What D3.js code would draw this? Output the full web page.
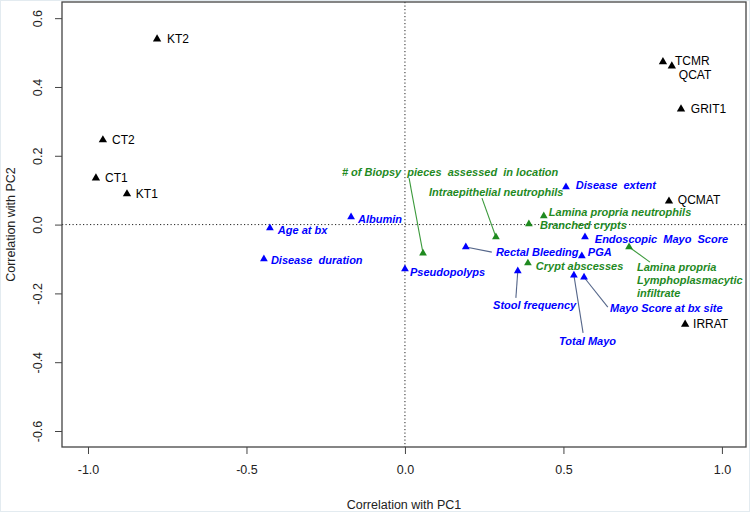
<!DOCTYPE html>
<html><head><meta charset="utf-8">
<script src="https://cdn.jsdelivr.net/npm/d3@7"></script>
<style>
html,body{margin:0;padding:0;background:#fff;}
svg{display:block;}
text{font-family:"Liberation Sans",Arial,sans-serif;}
</style></head>
<body>
<svg id="chart" width="750" height="512"></svg>
<script>
// ---- data ----
const names = ["KT2","CT2","CT1","KT1","TCMR","QCAT","GRIT1","QCMAT","IRRAT",
  "Age at bx","Albumin","Disease  duration","Pseudopolyps","Rectal Bleeding","Disease  extent",
  "Endoscopic  Mayo  Score","PGA","Stool frequency","Total Mayo","Mayo Score at bx site",
  "# of Biopsy  pieces  assessed  in location","Intraepithelial neutrophils","Lamina propria neutrophils",
  "Branched crypts","Crypt abscesses","Lamina propria\nLymphoplasmacytic\ninfiltrate"];
const groups = ["gene","gene","gene","gene","gene","gene","gene","gene","gene",
  "clin","clin","clin","clin","clin","clin","clin","clin","clin","clin","clin",
  "hist","hist","hist","hist","hist","hist"];
const pc1 = [-0.782,-0.953,-0.975,-0.877,0.814,0.842,0.871,0.833,0.884,
  -0.426,-0.170,-0.445,0.000,0.192,0.508,0.568,0.558,0.356,0.533,0.565,
  0.057,0.287,0.438,0.391,0.388,0.707];
const pc2 = [0.539,0.246,0.135,0.089,0.473,0.461,0.336,0.068,-0.290,
  -0.010,0.022,-0.100,-0.129,-0.065,0.109,-0.036,-0.091,-0.135,-0.147,-0.153,
  -0.083,-0.036,0.025,0.002,-0.112,-0.065];
// label anchors (left edge, vertical middle) in data units
const labX = [-0.751,-0.924,-0.946,-0.849,0.852,0.864,0.902,0.861,0.909,
  -0.401,-0.148,-0.423,0.016,0.287,0.539,0.599,0.577,0.278,0.486,0.647,
  -0.199,0.076,0.454,0.426,0.413,0.732];
const labY = [0.539,0.246,0.135,0.089,0.475,0.436,0.336,0.072,-0.289,
  -0.016,0.016,-0.103,-0.138,-0.080,0.115,-0.042,-0.080,-0.234,-0.339,-0.242,
  0.153,0.095,0.037,-0.001,-0.120,-0.123];
// leader lines: [index, x, y] other end of segment (in data units)
const leaders = [[13,0.274,-0.080],[17,0.350,-0.213],[18,0.562,-0.315],[19,0.640,-0.240],
  [20,0.013,0.135],[21,0.243,0.077],[25,0.773,-0.109]];
const xTicks = [-1.0,-0.5,0.0,0.5,1.0];
const yTicks = [-0.6,-0.4,-0.2,0.0,0.2,0.4,0.6];

// ---- chart ----
const svg = d3.select("#chart");
const L=62,R=746,T=2,B=447;
const x = d3.scaleLinear().domain([-1.082,1.076]).range([L,R]);
const y = d3.scaleLinear().domain([-0.6465,0.647]).range([B,T]);
const colors = {gene:"#000000", clin:"#0000ff", hist:"#1f8a1f"};
const lineCol = {clin:"#55668a", hist:"#3c9a3c"};
const fmt = d => d.toFixed(1);

svg.append("rect").attr("x",0.5).attr("y",0.5).attr("width",749).attr("height",511)
  .attr("fill","none").attr("stroke","#e3ebf0");

// reference lines
svg.append("line").attr("x1",L).attr("x2",R).attr("y1",y(0)).attr("y2",y(0))
  .attr("stroke","#222").attr("stroke-dasharray","1.2,2.3").attr("stroke-width",1);
svg.append("line").attr("y1",T).attr("y2",B).attr("x1",x(0)).attr("x2",x(0))
  .attr("stroke","#222").attr("stroke-dasharray","1.2,2.3").attr("stroke-width",1);

// axes
const xAxis = d3.axisBottom(x).tickValues(xTicks).tickFormat(fmt).tickSize(7).tickPadding(11);
const gx = svg.append("g").attr("transform",`translate(0,${B})`).call(xAxis);
gx.select(".domain").remove();
const yAxis = d3.axisLeft(y).tickValues(yTicks).tickFormat(fmt).tickSize(7).tickPadding(0);
const gy = svg.append("g").attr("transform",`translate(${L},0)`).call(yAxis);
gy.select(".domain").remove();
[gx,gy].forEach(g=>{
  g.selectAll(".tick line").attr("stroke","#444");
  g.selectAll(".tick text").attr("fill","#222").style("font-size","12.5px")
   .style("font-family","'Liberation Sans',Arial,sans-serif");
});
gy.selectAll(".tick text").attr("text-anchor","middle").attr("dy",null)
  .attr("transform",d=>`translate(-24,0) rotate(-90)`).attr("x",0).attr("y",0)
  .attr("dominant-baseline","central");
gx.selectAll(".tick text").attr("dy","0.71em");

svg.append("rect").attr("x",L).attr("y",T).attr("width",R-L).attr("height",B-T)
  .attr("fill","none").attr("stroke","#444").attr("stroke-width",1.3);

svg.append("text").attr("x",(L+R)/2).attr("y",505).attr("text-anchor","middle")
  .attr("dominant-baseline","central").style("font-size","12.5px").attr("fill","#222")
  .text("Correlation with PC1");
svg.append("text").attr("transform",`translate(11,${(T+B)/2}) rotate(-90)`)
  .attr("text-anchor","middle").attr("dominant-baseline","central")
  .style("font-size","12.5px").attr("fill","#222").text("Correlation with PC2");

// leader lines
leaders.forEach(([i,lx,ly])=>{
  svg.append("line").attr("x1",x(pc1[i])).attr("y1",y(pc2[i])).attr("x2",x(lx)).attr("y2",y(ly))
    .attr("stroke",lineCol[groups[i]]).attr("stroke-width",1.1);
});

// points
const idx = d3.range(names.length);
svg.append("g").selectAll("path").data(idx).join("path")
  .attr("d",d3.symbol(d3.symbolTriangle, i=>groups[i]==="gene"?30:26))
  .attr("transform",i=>`translate(${x(pc1[i])},${y(pc2[i])})`)
  .attr("fill",i=>colors[groups[i]]);

// labels
const lg = svg.append("g");
idx.forEach(i=>{
  const isGene = groups[i]==="gene";
  const t = lg.append("text").attr("x",x(labX[i])).attr("y",y(labY[i]))
    .attr("fill",colors[groups[i]])
    .style("white-space","pre")
    .style("font-size",isGene?"12px":"11px")
    .style("font-weight",isGene?"normal":"bold")
    .style("font-style",isGene?"normal":"italic");
  const lines = names[i].split("\n");
  lines.forEach((s,k)=>{
    t.append("tspan").attr("x",x(labX[i])).attr("dy",k===0?"0.35em":"13px").text(s);
  });
});
</script>
</body></html>
